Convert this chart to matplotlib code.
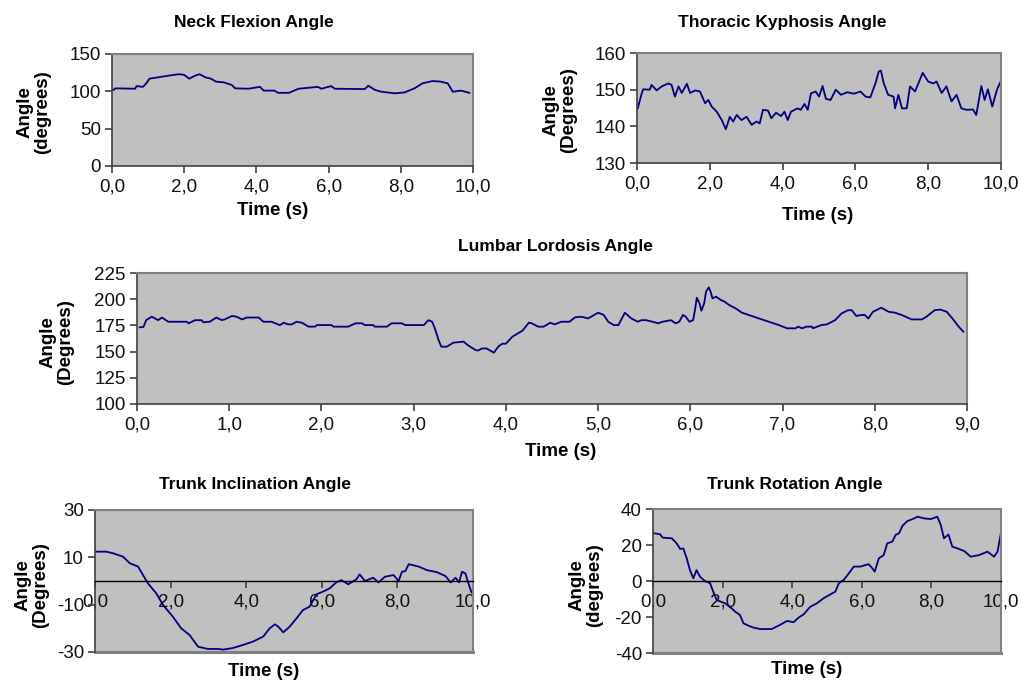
import matplotlib
matplotlib.use("Agg")
import matplotlib.pyplot as plt
from matplotlib.ticker import FuncFormatter, MultipleLocator

plt.rcParams['font.family'] = ['Liberation Sans', 'DejaVu Sans']
plt.rcParams['axes.unicode_minus'] = False

# ---------------- data ----------------
neck_t = [0.04, 0.10, 0.64, 0.68, 0.86, 0.95, 1.04, 1.31, 1.50, 1.68, 1.86, 2.00, 2.14, 2.28, 2.42,
          2.60, 2.74, 2.88, 3.10, 3.32, 3.41, 3.78, 4.10, 4.20, 4.50, 4.60, 4.90, 5.17, 5.70, 5.80,
          6.07, 6.17, 7.00, 7.10, 7.28, 7.46, 7.83, 8.10, 8.38, 8.60, 8.88, 9.10, 9.30, 9.44, 9.67, 9.90]
neck_v = [102, 104, 103.5, 107, 106, 110.7, 117, 119, 120.5, 121.8, 123, 122, 117, 120.5, 123,
          118.5, 117, 113, 112, 108.4, 104, 103.5, 106, 101, 101, 98, 98, 103.5, 106, 103.5,
          107, 103.5, 103, 107.5, 102, 99.5, 97.3, 98.5, 104, 110.7, 113.8, 113, 110.7, 99.5, 101, 98]

thor_t = [0.02, 0.13, 0.17, 0.35, 0.40, 0.54, 0.68, 0.86, 0.95, 1.04, 1.14, 1.23, 1.37, 1.46, 1.60,
          1.73, 1.87, 1.96, 2.05, 2.19, 2.33, 2.44, 2.55, 2.64, 2.74, 2.87, 3.01, 3.15, 3.28, 3.37,
          3.46, 3.60, 3.69, 3.82, 3.96, 4.05, 4.14, 4.23, 4.41, 4.50, 4.60, 4.69, 4.78, 4.91, 5.00,
          5.10, 5.19, 5.32, 5.46, 5.60, 5.78, 5.96, 6.14, 6.28, 6.41, 6.55, 6.64, 6.70, 6.78, 6.90,
          7.05, 7.09, 7.18, 7.28, 7.41, 7.50, 7.64, 7.73, 7.85, 8.00, 8.14, 8.23, 8.37, 8.50, 8.64,
          8.78, 8.91, 9.05, 9.23, 9.32, 9.46, 9.55, 9.64, 9.76, 9.89, 9.98]
thor_v = [144.9, 149.0, 150.1, 150.0, 151.3, 149.8, 150.9, 151.7, 151.3, 148.1, 150.9, 149.1, 151.6, 149.1, 149.8,
          149.5, 146.3, 147.2, 145.4, 144.0, 141.7, 139.2, 142.6, 141.3, 143.1, 141.7, 142.6, 140.4, 141.3, 140.8,
          144.5, 144.3, 142.2, 143.7, 142.8, 144.0, 141.7, 144.0, 144.9, 144.5, 146.1, 144.5, 149.0, 149.5, 148.1,
          151.0, 147.5, 147.2, 150.0, 148.6, 149.3, 148.9, 149.5, 148.1, 147.9, 151.7, 154.9, 155.2, 151.7, 148.6,
          148.1, 144.9, 148.6, 144.9, 144.9, 150.9, 149.5, 151.7, 154.6, 152.2, 151.7, 152.2, 149.1, 150.9, 146.8,
          148.6, 144.9, 144.5, 144.6, 143.1, 151.0, 147.2, 150.1, 145.4, 150.0, 152.0]

lumb_t = [0.03, 0.07, 0.10, 0.16, 0.23, 0.27, 0.34, 0.54, 0.56, 0.63, 0.70, 0.72, 0.79, 0.86, 0.92,
          0.95, 1.03, 1.08, 1.14, 1.19, 1.32, 1.37, 1.46, 1.50, 1.55, 1.59, 1.64, 1.68, 1.73, 1.79,
          1.86, 1.93, 1.95, 2.11, 2.13, 2.29, 2.37, 2.44, 2.47, 2.56, 2.58, 2.71, 2.76, 2.87, 2.91,
          3.11, 3.16, 3.20, 3.23, 3.27, 3.30, 3.36, 3.43, 3.54, 3.59, 3.67, 3.70, 3.74, 3.79, 3.83,
          3.87, 3.92, 3.96, 4.00, 4.07, 4.18, 4.25, 4.28, 4.35, 4.41, 4.48, 4.53, 4.60, 4.69, 4.75,
          4.82, 4.89, 5.00, 5.06, 5.11, 5.17, 5.22, 5.29, 5.36, 5.43, 5.47, 5.52, 5.59, 5.65, 5.70,
          5.79, 5.84, 5.88, 5.92, 5.95, 5.99, 6.03, 6.05, 6.07, 6.10, 6.12, 6.15, 6.17, 6.20, 6.22,
          6.24, 6.28, 6.33, 6.37, 6.42, 6.49, 6.56, 6.63, 6.74, 6.85, 6.96, 7.05, 7.14, 7.17, 7.21,
          7.26, 7.32, 7.33, 7.42, 7.48, 7.57, 7.64, 7.71, 7.75, 7.80, 7.86, 7.89, 7.93, 7.98, 8.07,
          8.15, 8.22, 8.29, 8.40, 8.51, 8.56, 8.65, 8.71, 8.78, 8.85, 8.91, 8.96]
lumb_v = [173.2, 173.5, 180.1, 183.3, 180.0, 182.5, 178.5, 178.5, 177.0, 180.0, 180.0, 178.0, 178.5, 182.5, 180.0,
          180.7, 184.0, 183.3, 180.7, 182.5, 182.5, 178.5, 178.5, 177.0, 175.3, 177.5, 176.0, 176.0, 178.5, 177.5,
          173.8, 173.8, 175.3, 175.3, 173.8, 173.8, 177.0, 177.0, 175.3, 175.3, 173.8, 173.8, 177.0, 177.0, 175.3,
          175.3, 180.0, 178.5, 172.2, 161.0, 154.7, 154.7, 158.5, 159.5, 156.0, 151.5, 151.0, 153.0, 153.0, 151.0,
          149.0, 155.0, 157.5, 157.5, 164.2, 170.0, 177.6, 177.0, 173.8, 173.8, 177.5, 176.0, 178.5, 178.5, 182.7,
          183.3, 181.6, 187.1, 185.0, 178.5, 175.3, 175.3, 187.1, 181.6, 178.5, 180.0, 180.0, 178.5, 177.0, 178.5,
          180.0, 177.0, 178.5, 185.0, 183.3, 178.5, 180.0, 189.5, 201.4, 196.0, 189.0, 196.0, 207.2, 211.3, 207.2,
          200.8, 202.4, 199.3, 197.7, 194.5, 191.3, 187.1, 185.0, 181.6, 178.5, 175.3, 172.2, 172.2, 173.8, 172.2,
          173.8, 173.8, 172.2, 175.3, 176.0, 180.0, 186.4, 189.5, 189.5, 184.0, 185.0, 185.0, 181.6, 188.0, 191.9,
          188.0, 187.1, 185.0, 180.7, 180.7, 183.3, 189.5, 190.1, 188.0, 180.7, 173.8, 169.0]

incl_t = [0.02, 0.30, 0.48, 0.74, 0.92, 1.14, 1.27, 1.40, 1.62, 1.80, 2.06, 2.28, 2.50, 2.73, 2.99,
          3.26, 3.39, 3.65, 3.92, 4.18, 4.45, 4.62, 4.76, 4.85, 4.98, 5.15, 5.33, 5.50, 5.68, 5.86,
          6.03, 6.21, 6.38, 6.52, 6.70, 6.92, 7.00, 7.14, 7.36, 7.50, 7.67, 7.90, 8.03, 8.12, 8.21,
          8.30, 8.56, 8.78, 9.05, 9.27, 9.41, 9.54, 9.63, 9.71, 9.80, 9.87, 9.96]
incl_v = [12.4, 12.4, 11.7, 10.3, 7.5, 6.1, 2.5, -1.0, -5.2, -10.1, -15.1, -20.0, -22.8, -27.8, -28.7,
          -28.7, -29.0, -28.3, -27.0, -25.6, -23.5, -20.0, -18.3, -19.3, -21.7, -19.3, -15.8, -12.3, -10.8, -5.6,
          -4.5, -3.1, -0.6, 0.4, -1.4, 0.8, 2.8, 0.0, 1.4, -0.6, 1.8, 2.5, 0.0, 3.9, 4.2,
          7.1, 6.1, 4.6, 3.7, 2.1, -0.6, 1.4, -0.6, 3.9, 3.2, -0.6, -4.8]

rot_t = [0.03, 0.20, 0.28, 0.54, 0.68, 0.78, 0.87, 0.97, 1.06, 1.16, 1.25, 1.35, 1.49, 1.64, 1.73,
         1.83, 2.07, 2.26, 2.36, 2.50, 2.60, 2.74, 2.89, 3.08, 3.41, 3.65, 3.85, 4.04, 4.18, 4.33,
         4.52, 4.71, 4.90, 5.10, 5.24, 5.34, 5.48, 5.63, 5.77, 5.96, 6.11, 6.20, 6.30, 6.37, 6.49,
         6.63, 6.73, 6.88, 6.97, 7.07, 7.17, 7.31, 7.46, 7.60, 7.79, 7.98, 8.17, 8.27, 8.36, 8.49,
         8.60, 8.75, 8.94, 9.13, 9.37, 9.61, 9.80, 9.90, 9.99]
rot_v = [26.5, 26.0, 24.1, 23.7, 20.9, 17.8, 18.1, 12.6, 6.1, 1.5, 6.1, 2.4, 0.0, -1.2, -5.9,
         -10.6, -12.4, -15.2, -17.0, -18.9, -23.5, -24.8, -25.9, -26.7, -26.7, -24.4, -22.2, -22.9, -20.4, -18.5,
         -14.3, -12.4, -9.6, -7.4, -5.9, -1.2, 0.6, 4.3, 8.0, 8.0, 8.9, 9.3, 7.1, 5.2, 12.6,
         14.4, 20.9, 21.9, 25.6, 26.5, 30.7, 33.3, 34.4, 35.7, 34.8, 34.4, 35.7, 31.1, 23.7, 25.9,
         19.1, 18.1, 16.7, 13.5, 14.4, 16.3, 13.5, 16.3, 25.9]

# ---------------- styling ----------------
W, H = 1021, 684
fig = plt.figure(figsize=(W / 100, H / 100), dpi=100)
fig.patch.set_facecolor('white')
LINE = '#000080'
BG = '#C0C0C0'
TICK_FS = 13.5
LAB_FS = 13.5
TITLE_FS = 12.5

fmt_comma = FuncFormatter(lambda v, p: f"{v:.1f}".replace('.', ','))


def ax_at(l, t, r, b):
    return fig.add_axes([l / W, 1 - b / H, (r - l) / W, (b - t) / H])


def style(ax, xlim, ylim, xstep, ystep, zero_axis=False):
    ax.set_facecolor(BG)
    ax.set_xlim(*xlim)
    ax.set_ylim(*ylim)
    ax.xaxis.set_major_locator(MultipleLocator(xstep))
    ax.yaxis.set_major_locator(MultipleLocator(ystep))
    ax.xaxis.set_major_formatter(fmt_comma)
    for s in ('top', 'right'):
        ax.spines[s].set_color('#808080')
        ax.spines[s].set_linewidth(1.5)
    ax.spines['left'].set_color('#404040')
    ax.spines['left'].set_linewidth(1.2)
    ax.tick_params(axis='both', direction='out', length=5, width=1.2, colors='#404040',
                   labelsize=TICK_FS, labelcolor='#111111')
    ax.tick_params(axis='x', pad=4)
    ax.tick_params(axis='y', pad=3)
    if zero_axis:
        ax.spines['bottom'].set_position(('data', 0))
        ax.spines['bottom'].set_color('black')
        ax.spines['bottom'].set_linewidth(1.0)
        # grey border at the bottom of the plot area
        ax.plot([0, 1], [0, 0], transform=ax.transAxes, color='#808080', lw=2.2, clip_on=False)
    else:
        ax.spines['bottom'].set_color('#404040')
        ax.spines['bottom'].set_linewidth(1.2)


def ylab(x, y, text):
    fig.text(x / W, 1 - y / H, text, rotation=90, ha='center', va='center',
             fontsize=LAB_FS, fontweight='bold', linespacing=1.05)


def xlab(x, y, text):
    fig.text(x / W, 1 - y / H, text, ha='center', va='center', fontsize=LAB_FS, fontweight='bold')


def title(x, y, text):
    fig.text(x / W, 1 - y / H, text, ha='center', va='center', fontsize=TITLE_FS, fontweight='bold')


# Neck flexion
ax1 = ax_at(112, 54, 473, 166)
style(ax1, (0, 10), (0, 150), 2, 50)
ax1.plot(neck_t, neck_v, color=LINE, lw=1.3)
title(254, 22, 'Neck Flexion Angle')
ylab(34, 112, 'Angle\n(degrees)')
xlab(273, 210, 'Time (s)')

# Thoracic kyphosis
ax2 = ax_at(637, 53, 1001, 163)
style(ax2, (0, 10), (130, 160), 2, 10)
ax2.plot(thor_t, thor_v, color=LINE, lw=1.3)
title(782, 22, 'Thoracic Kyphosis Angle')
ylab(560, 110, 'Angle\n(Degrees)')
xlab(818, 215, 'Time (s)')

# Lumbar lordosis
ax3 = ax_at(137, 273, 967, 404)
style(ax3, (0, 9), (100, 225), 1, 25)
ax3.plot(lumb_t, lumb_v, color=LINE, lw=1.3)
title(555, 246, 'Lumbar Lordosis Angle')
ylab(57, 342, 'Angle\n(Degrees)')
xlab(561, 452, 'Time (s)')

# Trunk inclination
ax4 = ax_at(95, 510, 473, 652)
style(ax4, (0, 10), (-30, 30), 2, 20, zero_axis=True)
ax4.set_yticks([-30, -10, 10, 30])
ax4.plot(incl_t, incl_v, color=LINE, lw=1.3)
title(255, 485, 'Trunk Inclination Angle')
ylab(32, 585, 'Angle\n(Degrees)')
xlab(264, 672, 'Time (s)')

# Trunk rotation
ax5 = ax_at(653, 509, 1001, 653)
style(ax5, (0, 10), (-40, 40), 2, 20, zero_axis=True)
ax5.plot(rot_t, rot_v, color=LINE, lw=1.3)
title(795, 485, 'Trunk Rotation Angle')
ylab(586, 585, 'Angle\n(degrees)')
xlab(807, 670, 'Time (s)')

fig.savefig('out.png', dpi=100, facecolor='white')
